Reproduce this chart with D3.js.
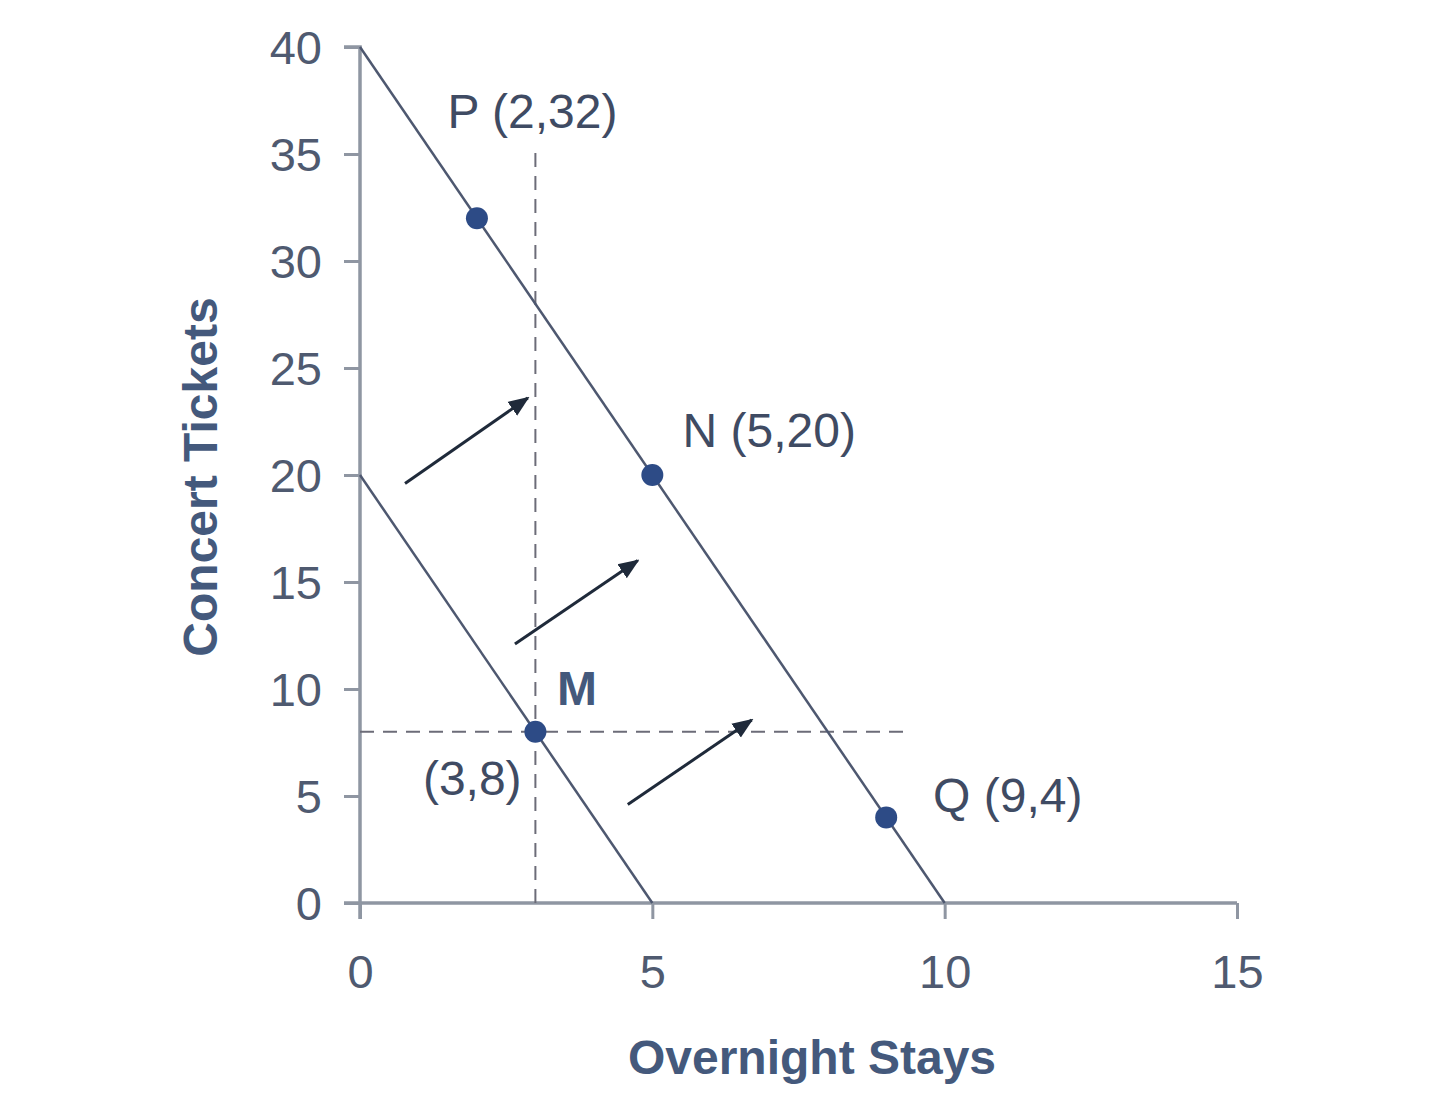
<!DOCTYPE html>
<html><head><meta charset="utf-8">
<script src="https://cdn.jsdelivr.net/npm/d3@7"></script>
<style>body{margin:0;background:#fff}svg{display:block}</style>
</head><body>
<script>
const xTicks = [0, 5, 10, 15];
const yTicks = [0, 5, 10, 15, 20, 25, 30, 35, 40];
const budget1 = [{x: 0, y: 20}, {x: 5, y: 0}];
const budget2 = [{x: 0, y: 40}, {x: 10, y: 0}];
const points = [
  {name: "P", x: 2, y: 32},
  {name: "N", x: 5, y: 20},
  {name: "M", x: 3, y: 8},
  {name: "Q", x: 9, y: 4}
];
const labels = [
  {text: "P (2,32)", x: 2.95, y: 37.0, bold: false},
  {text: "N (5,20)", x: 7.0, y: 22.1, bold: false},
  {text: "M", x: 3.71, y: 10.05, bold: true},
  {text: "(3,8)", x: 1.92, y: 5.84, bold: false},
  {text: "Q (9,4)", x: 11.08, y: 5.05, bold: false}
];
const dashV = [{x: 3, y: 0}, {x: 3, y: 35.3}];
const dashH = [{x: 0, y: 8}, {x: 9.4, y: 8}];
const arrows = [
  {x1: 0.77, y1: 19.6, x2: 2.87, y2: 23.6},
  {x1: 2.65, y1: 12.1, x2: 4.75, y2: 16.0},
  {x1: 4.58, y1: 4.6, x2: 6.70, y2: 8.55}
];

const W = 1440, H = 1116;
const svg = d3.select("body").append("svg").attr("width", W).attr("height", H);
const x = d3.scaleLinear().domain([0, 15]).range([360, 1237]);
const y = d3.scaleLinear().domain([0, 40]).range([903, 47]);

const axisColor = "#8f96a2";
const tickText = "#4f5a70";
const lineColor = "#4e5870";
const font = "'Liberation Sans', Arial, sans-serif";

svg.append("defs").append("marker")
  .attr("id", "arr").attr("viewBox", "0 0 10 10").attr("refX", 9).attr("refY", 5)
  .attr("markerWidth", 7).attr("markerHeight", 7).attr("orient", "auto")
  .attr("markerUnits", "strokeWidth")
  .append("path").attr("d", "M0,1 L10,5 L0,9 z").attr("fill", "#1f2a3a");

// axes
const gx = svg.append("g").attr("transform", `translate(0,${y(0)})`)
  .call(d3.axisBottom(x).tickValues(xTicks).tickSize(16).tickPadding(36));
const gy = svg.append("g").attr("transform", `translate(${x(0)},0)`)
  .call(d3.axisLeft(y).tickValues(yTicks).tickSize(16).tickPadding(22));
[gx, gy].forEach(g => {
  g.select(".domain").attr("stroke", axisColor).attr("stroke-width", 3.5);
  g.selectAll(".tick line").attr("stroke", axisColor).attr("stroke-width", 3);
  g.selectAll(".tick text").attr("fill", tickText).attr("font-family", font)
    .attr("font-size", 47);
});
gx.select(".domain").attr("d", `M${x(0) - 16},0H${x(15)}`);
gy.select(".domain").attr("d", `M0,${y(0) + 16}V${y(40)}H-16`);
gx.selectAll(".tick text").attr("dy", "0.71em");
gy.selectAll(".tick text").attr("dy", "0.36em");

// axis titles
svg.append("text").attr("x", 812).attr("y", 1074).attr("text-anchor", "middle")
  .attr("font-family", font).attr("font-weight", "bold").attr("font-size", 48)
  .attr("fill", "#44597c").text("Overnight Stays");
svg.append("text").attr("transform", "translate(217,477) rotate(-90)")
  .attr("text-anchor", "middle").attr("font-family", font).attr("font-weight", "bold")
  .attr("font-size", 48).attr("fill", "#44597c").text("Concert Tickets");

// dashed guides
const line = d3.line().x(d => x(d.x)).y(d => y(d.y));
[dashV, dashH].forEach(d => svg.append("path").attr("d", line(d))
  .attr("stroke", "#6c6c78").attr("stroke-width", 2).attr("stroke-dasharray", "14,9")
  .attr("fill", "none"));

// budget lines
[budget1, budget2].forEach(d => svg.append("path").attr("d", line(d))
  .attr("stroke", lineColor).attr("stroke-width", 2.5).attr("fill", "none"));

// arrows
svg.selectAll(".arrow").data(arrows).join("line").attr("class", "arrow")
  .attr("x1", d => x(d.x1)).attr("y1", d => y(d.y1))
  .attr("x2", d => x(d.x2)).attr("y2", d => y(d.y2))
  .attr("stroke", "#1f2a3a").attr("stroke-width", 3).attr("marker-end", "url(#arr)");

// points
svg.selectAll(".pt").data(points).join("circle").attr("class", "pt")
  .attr("cx", d => x(d.x)).attr("cy", d => y(d.y)).attr("r", 11)
  .attr("fill", "#2d4b86");

// labels
svg.selectAll(".lbl").data(labels).join("text").attr("class", "lbl")
  .attr("x", d => x(d.x)).attr("y", d => y(d.y)).attr("text-anchor", "middle")
  .attr("dy", "0.36em").attr("font-family", font).attr("font-size", 48)
  .attr("font-weight", d => d.bold ? "bold" : "normal")
  .attr("fill", d => d.bold ? "#44597c" : "#3f4b63").text(d => d.text);
</script>
</body></html>
